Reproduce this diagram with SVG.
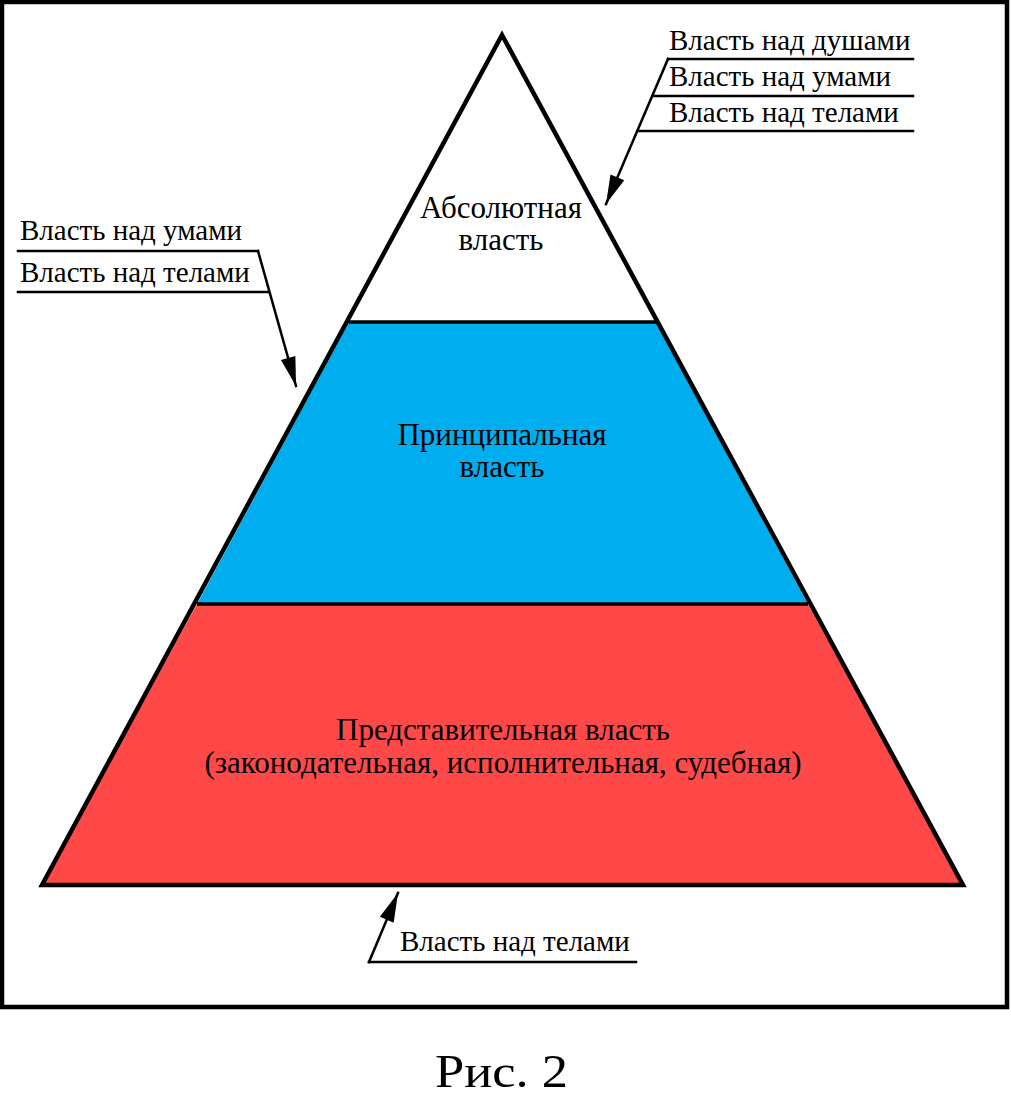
<svg xmlns="http://www.w3.org/2000/svg" width="1011" height="1105" viewBox="0 0 1011 1105">
<style>
text{font-family:"Liberation Serif","Times New Roman",serif;fill:#000}
.lbl{font-size:29px}
.tier{font-size:31px;text-anchor:middle}
.ln{stroke:#000;stroke-width:2.5;fill:none;stroke-linecap:square}
.div{stroke:#000;stroke-width:3.5}
</style>
<defs>
<marker id="arr" markerUnits="userSpaceOnUse" markerWidth="32" markerHeight="20" viewBox="-30 -10 32 20" refX="0" refY="0" orient="auto">
<path d="M0,0 L-29,-7.5 L-29,7.5 Z" fill="#000"/>
</marker>
</defs>
<rect x="0" y="0" width="1011" height="1105" fill="#fff"/>
<rect x="2" y="2" width="1005" height="1005" fill="none" stroke="#000" stroke-width="4.5"/>
<g id="tier-absolute">
<polygon points="502,35 349,322 656,322" fill="#fff"/>
<text class="tier" x="501" y="218">Абсолютная</text>
<text class="tier" x="501" y="250">власть</text>
</g>
<g id="tier-principal">
<polygon points="349,322 656,322 808,604 197,604" fill="#00aeef"/>
<text class="tier" x="502" y="445">Принципальная</text>
<text class="tier" x="502" y="477">власть</text>
</g>
<g id="tier-representative">
<polygon points="197,604 808,604 963,885 42,885" fill="#ff4949"/>
<text class="tier" x="503" y="740">Представительная власть</text>
<text class="tier" x="503" y="773">(законодательная, исполнительная, судебная)</text>
</g>
<g id="pyramid-outline">
<polygon points="502,35 963,885 42,885" fill="none" stroke="#000" stroke-width="4.5" stroke-linejoin="miter"/>
<line class="div" x1="349" y1="322" x2="656" y2="322"/>
<line class="div" x1="197" y1="604" x2="808" y2="604"/>
</g>
<g id="label-top-right">
<text class="lbl" x="669" y="50">Власть над душами</text>
<text class="lbl" x="669" y="86">Власть над умами</text>
<text class="lbl" x="669" y="122">Власть над телами</text>
</g>
<g id="label-left">
<text class="lbl" x="20" y="240">Власть над умами</text>
<text class="lbl" x="20" y="282">Власть над телами</text>
</g>
<g id="label-bottom">
<text class="lbl" x="400" y="951">Власть над телами</text>
</g>
<g id="connectors">
<line class="ln" x1="668" y1="59" x2="913" y2="59"/>
<line class="ln" x1="653" y1="96" x2="913" y2="96"/>
<line class="ln" x1="638" y1="131" x2="913" y2="131"/>
<line class="ln" x1="668" y1="59" x2="606" y2="204" marker-end="url(#arr)"/>
<line class="ln" x1="18" y1="251" x2="258" y2="251"/>
<line class="ln" x1="18" y1="292" x2="268" y2="292"/>
<line class="ln" x1="258" y1="251" x2="296" y2="386" marker-end="url(#arr)"/>
<line class="ln" x1="369" y1="962" x2="636" y2="962"/>
<line class="ln" x1="369" y1="962" x2="398" y2="893" marker-end="url(#arr)"/>
</g>
<text x="501.5" y="1087" font-size="46" text-anchor="middle" textLength="133" lengthAdjust="spacingAndGlyphs">Рис. 2</text>
</svg>
